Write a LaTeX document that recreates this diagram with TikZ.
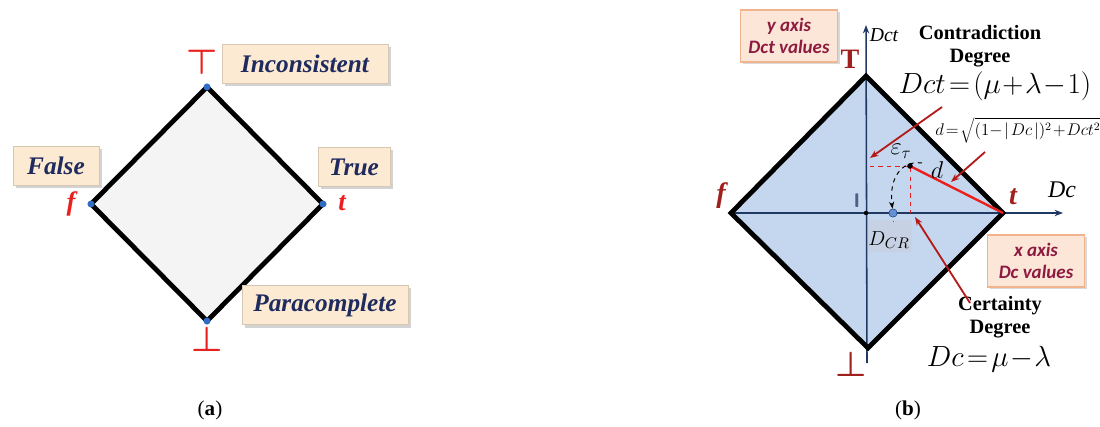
\documentclass[tikz,border=0pt]{standalone}
\usepackage{fontspec}
\setmainfont{Liberation Serif}
\newfontfamily\calib{Carlito}
\usetikzlibrary{shadows,arrows.meta}

\begin{document}
\begin{tikzpicture}[x=0.025cm,y=-0.025cm,font=\fontsize{12}{14}\selectfont]
  \definecolor{navytxt}{HTML}{1F2A5E}
  \definecolor{boxbeige}{HTML}{FCEBD2}
  \definecolor{dotblue}{HTML}{2F6DC4}
  \definecolor{latred}{HTML}{E8201E}
  \definecolor{darkred}{HTML}{A0201E}
  \definecolor{axisblue}{HTML}{1F3864}
  \definecolor{diafill}{HTML}{C5D7EF}
  \definecolor{peach}{HTML}{FCE6D8}
  \definecolor{peachline}{HTML}{F2B48C}
  \definecolor{wine}{HTML}{8E1B3F}
  \tikzset{
    valbox/.style={fill=boxbeige,draw=boxbeige!85!black,line width=0.3pt,
      drop shadow={shadow xshift=2pt,shadow yshift=-2pt,opacity=0.35},
      font=\fontsize{18}{20}\selectfont\bfseries\itshape,text=navytxt,
      inner xsep=5pt,minimum height=28},
    axisbox/.style={fill=peach,draw=peachline,line width=1pt,align=center,
      drop shadow={shadow xshift=1.5pt,shadow yshift=-1.5pt,opacity=0.3},
      font=\calib\fontsize{13.5}{16}\selectfont\bfseries\itshape,text=wine,
      minimum width=69,minimum height=37},
    edge/.style={line width=3.4pt,line join=miter},
    redarrow/.style={draw=darkred!80!red,line width=1.3pt,-{Stealth[length=6pt]}},
    degree/.style={font=\fontsize{14.5}{16.5}\selectfont\bfseries,align=center,inner sep=1pt},
    tight/.style={inner sep=1pt,execute at begin node={\medmuskip=1mu\thickmuskip=2mu}}
  }
  \path[use as bounding box] (0,0) rectangle (1100,427);

  % (a) lattice
  \coordinate (aT) at (207,87);
  \coordinate (aR) at (323,204);
  \coordinate (aB) at (207,321);
  \coordinate (aL) at (91,204);
  \draw[edge,fill=gray!9] (aT) -- (aR) -- (aB) -- (aL) -- cycle;
  \foreach \p in {aT,aR,aB,aL}{
    \fill[dotblue] (\p) circle (3.5);
  }
  \node[text=latred,font=\fontsize{24}{24}\selectfont\boldmath] (aTs) at (202,62) {$\top$};
  \node[text=latred,font=\fontsize{24}{24}\selectfont\boldmath] (aBs) at (207,339) {$\bot$};
  \node[text=latred,font=\fontsize{19}{19}\selectfont\bfseries\itshape] (af) at (71,204) {f};
  \node[text=latred,font=\fontsize{19}{19}\selectfont\bfseries\itshape] (at) at (342,203) {t};
  \node[valbox,minimum width=118] (incons) at (305,64) {Inconsistent};
  \node[valbox,minimum width=61] (false) at (56,166) {False};
  \node[valbox,minimum width=51] (true) at (354,167) {True};
  \node[valbox,minimum width=118] (parac) at (325,305) {Paracomplete};

  % (b) lattice with axes
  \coordinate (bT) at (866,76);
  \coordinate (bR) at (1003,213);
  \coordinate (bB) at (868,348);
  \coordinate (bL) at (731,213);
  \coordinate (orig) at (866,213);
  \coordinate (P) at (910,166);
  \fill[diafill] (bT) -- (bR) -- (bB) -- (bL) -- cycle;
  \fill[axisblue!25,opacity=0.5] (868,220) rectangle (912,252);
  \draw[axisblue,line width=1.1pt,-{Stealth[length=6pt]}] (867,363) -- (866,25);
  \draw[axisblue,line width=1.1pt,-{Stealth[length=6pt]}] (bL) -- (1063,213);
  \draw[edge] (bT) -- (bR) -- (bB) -- (bL) -- cycle;
  \node[font=\fontsize{14}{14}\selectfont\itshape] (dctax) at (884,35) {Dct};
  \node[font=\fontsize{17}{17}\selectfont\itshape] (dcax) at (1062,190) {Dc};
  \node[text=darkred,font=\fontsize{20}{20}\selectfont\bfseries] (bTs) at (850,59) {T};
  \node[text=darkred,font=\fontsize{30}{30}\selectfont\boldmath] (bBs) at (851,364) {$\bot$};
  \node[text=darkred,font=\fontsize{20}{20}\selectfont\bfseries\itshape] (bf) at (721,196) {f};
  \node[text=darkred,font=\fontsize{20}{20}\selectfont\bfseries\itshape] (bt) at (1013,197) {t};
  \node[text=axisblue!80,font=\fontsize{14}{14}\selectfont\bfseries\sffamily] (bI) at (857,201) {I};
  \node[axisbox] (ybox) at (789,36) {y axis\\Dct values};
  \node[axisbox] (xbox) at (1036,261) {x axis\\Dc values};

  % point and distance
  \draw[latred,dashed,line width=0.6pt] (870,166) -- (P) -- (910,213);
  \draw[latred,dashed,line width=0.6pt] (893,213) -- (893,222);
  \draw[latred,line width=1.7pt] (P) -- (bR);
  \fill[black] (orig) circle (2.2);
  \fill[black] (P) circle (2.8);
  \node[circle,fill=dotblue!75,draw=dotblue!50!black,line width=0.3pt,inner sep=2.1pt] (dcr) at (893,213) {};
  \draw[dashed,line width=0.7pt,-{Stealth[length=5pt]}] (922,163) .. controls (900,160) and (889,180) .. (dcr);
  \node[font=\fontsize{17}{17}\selectfont] (eps) at (901,151) {$\varepsilon_\tau$};
  \node[font=\fontsize{18}{18}\selectfont] (dlbl) at (937,170) {$d$};
  \node[font=\fontsize{15}{15}\selectfont] (dcrl) at (889,240) {$D_{CR}$};

  % degrees
  \node[degree] (contra) at (980,46) {Contradiction\\Degree};
  \node[tight,font=\fontsize{20}{20}\selectfont] (dcteq) at (995,86) {$Dct=\left(\mu+\lambda-1\right)$};
  \node[tight,font=\fontsize{12}{12}\selectfont] (deq) at (1018,130) {$d=\sqrt{(1-\mid Dc\mid)^2+Dct^2}$};
  \node[degree] (cert) at (1000,317) {Certainty\\Degree};
  \node[tight,font=\fontsize{20}{20}\selectfont] (dceq) at (989,359) {$Dc=\mu-\lambda$};
  \coordinate (yfoot) at (870,158);
  \coordinate (dfoot) at (951,182);
  \coordinate (xfoot) at (915,217);
  \draw[redarrow] (942,107) -- (yfoot);
  \draw[redarrow] (985,152) -- (dfoot);
  \draw[redarrow] (970,303) -- (xfoot);

  % captions
  \node[font=\fontsize{15}{15}\selectfont] (capa) at (210,410) {(\textbf{a})};
  \node[font=\fontsize{15}{15}\selectfont] (capb) at (908,410) {(\textbf{b})};
\end{tikzpicture}
\end{document}
